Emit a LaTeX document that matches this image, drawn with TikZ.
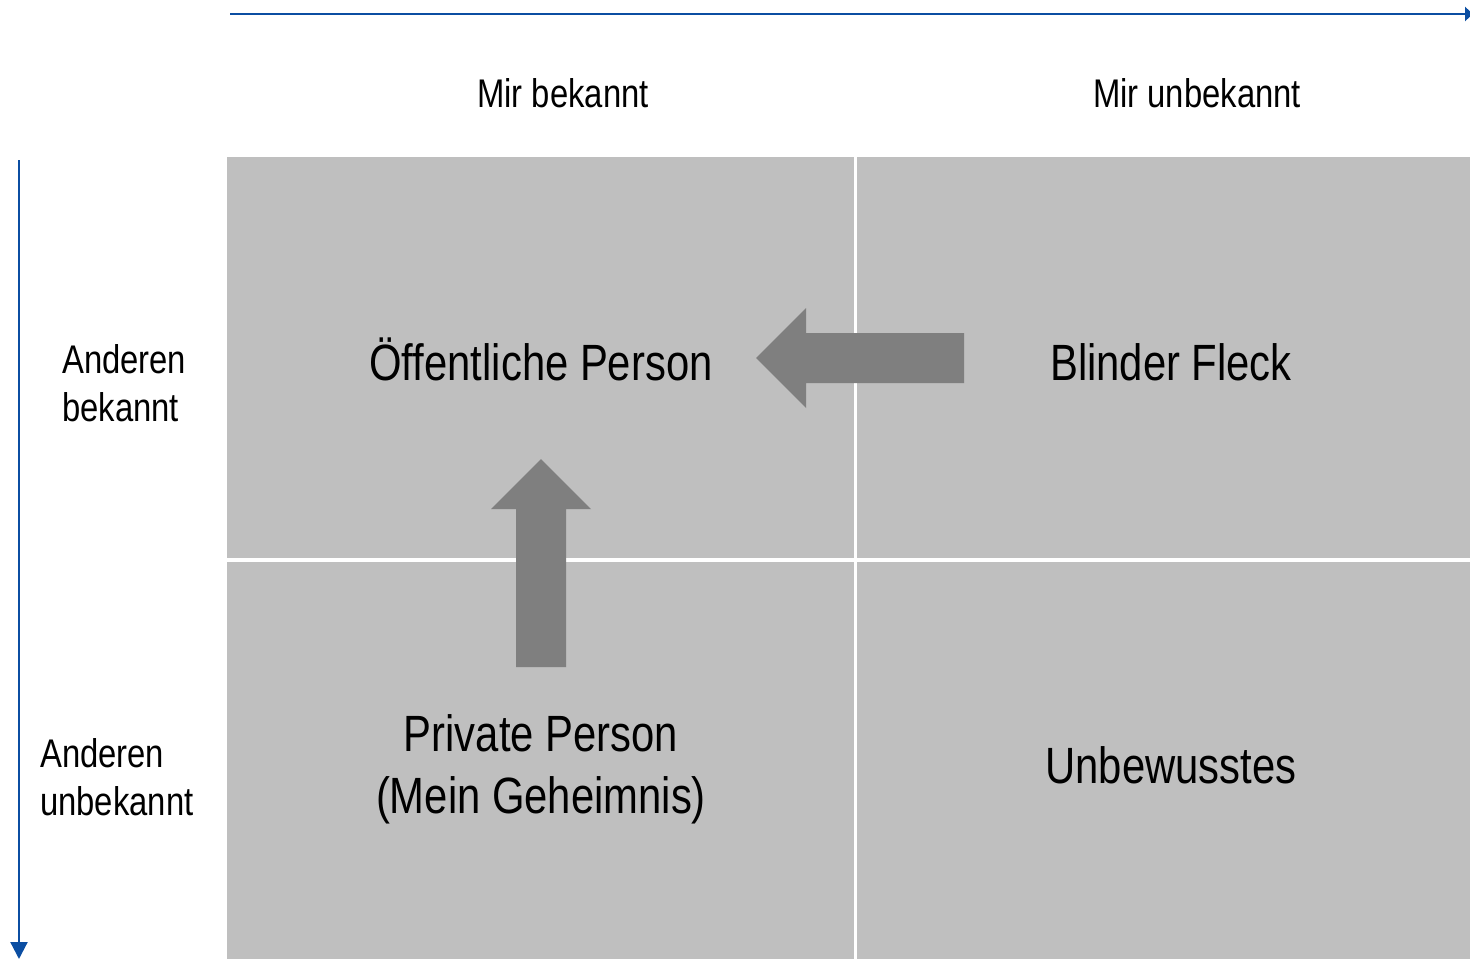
\documentclass[tikz,border=0pt]{standalone}
\usepackage{fontspec}
\setmainfont{Liberation Sans}[FakeStretch=0.82]
\usetikzlibrary{arrows.meta}
\definecolor{cellgray}{HTML}{BFBFBF}
\definecolor{arrowgray}{HTML}{7F7F7F}
\definecolor{axisblue}{HTML}{0B4EA2}
\tikzset{
  cell/.style={fill=cellgray, draw=none, inner sep=0pt, anchor=north west},
  axis/.style={draw=axisblue, line width=2.2pt, -{Triangle[length=17pt,width=17pt]}},
  bigtext/.style={font=\fontsize{51}{62}\selectfont, anchor=base, inner sep=0pt, align=center},
  smalltext/.style={font=\fontsize{40}{48}\selectfont, anchor=base, inner sep=0pt},
  fatarrow/.style={fill=arrowgray, draw=none}
}
\begin{document}
\begin{tikzpicture}[x=1pt,y=-1pt]
\useasboundingbox (0,0) rectangle (1470,959);
% cells
\node[cell, minimum width=627pt, minimum height=401pt] (tl) at (227,157) {};
\node[cell, minimum width=613pt, minimum height=401pt] (tr) at (857,157) {};
\node[cell, minimum width=627pt, minimum height=397pt] (bl) at (227,562) {};
\node[cell, minimum width=613pt, minimum height=397pt] (br) at (857,562) {};
% axes
\coordinate (hx0) at (230,14);
\coordinate (hx1) at (1473,14);
\coordinate (vy0) at (19,160);
\coordinate (vy1) at (19,959);
\draw[axis, -{Triangle[length=8pt,width=14pt]}] (hx0) -- (hx1);
\draw[axis] (vy0) -- (vy1);
% fat arrows
\fill[fatarrow] (756,358) -- (806,308) -- (806,333) -- (964,333) -- (964,383) -- (806,383) -- (806,408) -- cycle;
\fill[fatarrow] (541,459) -- (591,509) -- (566,509) -- (566,667) -- (516,667) -- (516,509) -- (491,509) -- cycle;
% labels
\node[smalltext] (h1) at (563,107) {Mir bekannt};
\node[smalltext] (h2) at (1197,107) {Mir unbekannt};
\node[smalltext, anchor=base west, align=left] (v1) at (62,421) {Anderen\\bekannt};
\node[smalltext, anchor=base west, align=left] (v2) at (40,815) {Anderen\\unbekannt};
\node[bigtext] (t1) at (541,380) {Öffentliche Person};
\node[bigtext] (t2) at (1171,380) {Blinder Fleck};
\node[bigtext] (t3) at (541,813) {Private Person\\(Mein Geheimnis)};
\node[bigtext] (t4) at (1171,783) {Unbewusstes};
\end{tikzpicture}
\end{document}
